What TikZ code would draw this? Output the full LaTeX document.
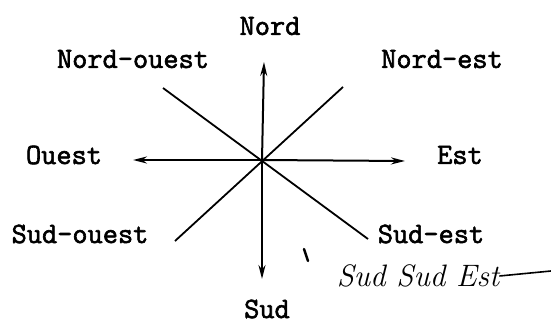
\documentclass[tikz,border=0pt]{standalone}
\usepackage{fontspec}
\newfontfamily\typo{Latin Modern Mono}[FakeBold=2]
\usetikzlibrary{arrows.meta}
\tikzset{
  lbl/.style  = {font=\typo\fontsize{29.5}{29.5}\selectfont, inner sep=0pt},
  axe/.style  = {line width=2pt, -{Stealth[length=14pt,width=7pt]}},
  diag/.style = {line width=1.8pt},
  hand/.style = {font=\itshape\fontsize{31}{31}\selectfont, inner sep=0pt}
}

\begin{document}
\begin{tikzpicture}[x=1pt,y=-1pt]
\useasboundingbox (0,0) rectangle (551,324);
\coordinate (O) at (262,160);
% arrow ends
\coordinate (n) at (264,62);
\coordinate (s) at (262,279);
\coordinate (o) at (133,160);
\coordinate (e) at (405,161);
% diagonal ends
\coordinate (no) at (163,88);
\coordinate (ne) at (343,87);
\coordinate (so) at (175,241);
\coordinate (se) at (368,239);
\draw[axe] (O)--(n);
\draw[axe] (O)--(s);
\draw[axe] (O)--(o);
\draw[axe] (O)--(e);
\draw[diag] (no)--(se);
\draw[diag] (ne)--(so);
\node[lbl] (Nord) at (270,26) {Nord};
\node[lbl] (NordOuest) at (133,59) {Nord-ouest};
\node[lbl] (NordEst) at (442,59) {Nord-est};
\node[lbl] (Ouest) at (64,155) {Ouest};
\node[lbl] (Est) at (460,155) {Est};
\node[lbl] (SudOuest) at (80,234) {Sud-ouest};
\node[lbl] (SudEst) at (431,234) {Sud-est};
\node[lbl] (Sud) at (267,309) {Sud};
% handwritten note
\node[hand] (SSE) at (418,276) {Sud Sud Est};
\coordinate (t1) at (304,249);
\coordinate (t2) at (308,261);
\draw[line width=2.5pt, line cap=round] (t1)--(t2);
\coordinate (q) at (551,271);
\draw[line width=1.6pt] (SSE.east)--(q);
\end{tikzpicture}
\end{document}
